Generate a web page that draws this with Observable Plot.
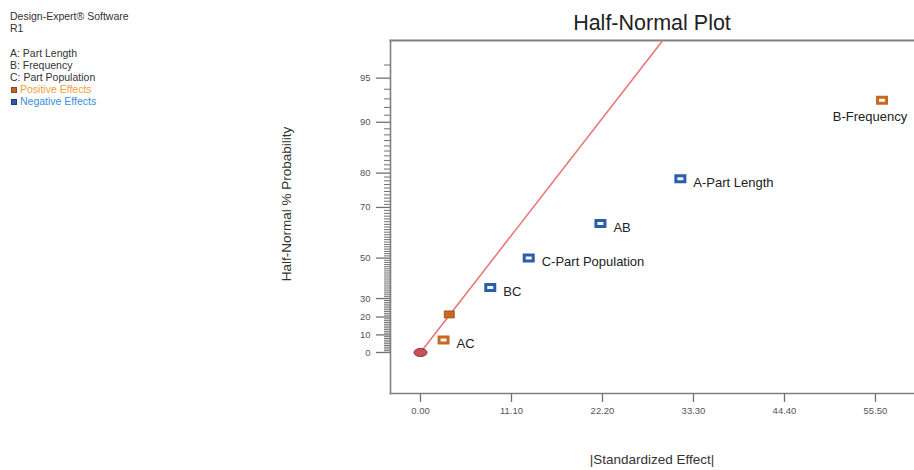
<!DOCTYPE html>
<html>
<head>
<meta charset="utf-8">
<script src="https://cdn.jsdelivr.net/npm/d3@7"></script>
<script src="https://cdn.jsdelivr.net/npm/@observablehq/plot@0.6"></script>
<style>
  body { margin: 0; background: #fff; font-family: "Liberation Sans", Arial, sans-serif; }
  #wrap { position: relative; width: 914px; height: 470px; overflow: hidden; }
  #legend { position: absolute; left: 10px; top: 10px; font-size: 10.5px; line-height: 12.2px; color: #333; }
  #legend .sq { display: inline-block; width: 4px; height: 4px; margin: 0 3px 1px 1px; vertical-align: middle; }
  #title { position: absolute; left: 390px; width: 524px; top: 11px; text-align: center; font-size: 21.5px; color: #222; }
  #xlabel { position: absolute; left: 390px; width: 524px; top: 452px; text-align: center; font-size: 13.5px; color: #333; }
  #ylabel { position: absolute; left: 187px; width: 200px; top: 196px; text-align: center; font-size: 13.5px; color: #333;
            transform: rotate(-90deg); transform-origin: 100px 8px; }
  svg { position: absolute; left: 0; top: 0; }
</style>
</head>
<body>
<div id="wrap">
  <div id="legend">
    <div>Design-Expert® Software</div>
    <div>R1</div>
    <div>&nbsp;</div>
    <div>A: Part Length</div>
    <div>B: Frequency</div>
    <div>C: Part Population</div>
    <div style="color:#f0a040"><span class="sq" style="background:#b8662a;border:1px solid #8a4a1a"></span>Positive Effects</div>
    <div style="color:#3a8fe0"><span class="sq" style="background:#2a5ca8;border:1px solid #1a3c78"></span>Negative Effects</div>
  </div>
  <div id="title">Half-Normal Plot</div>
  <div id="xlabel">|Standardized Effect|</div>
  <div id="ylabel">Half-Normal % Probability</div>
</div>
<script>
// ---- data ----
const terms = ["AC", "ABC", "BC", "C", "AB", "A", "B"];
const termLabels = ["AC", "", "BC", "C-Part Population", "AB", "A-Part Length", "B-Frequency"];
const effectSize = [2.81, 3.51, 8.51, 13.2, 21.95, 31.7, 56.3];
const probability = [7.14, 21.43, 35.71, 50, 64.29, 78.57, 92.86];
const effectSign = ["+", "+", "-", "-", "-", "-", "+"];
const selected = [true, false, true, true, true, true, true];
const originPoint = {x: 0, p: 0};
const lineX = [0, 29.5];
const lineP = [0, 97.4];
const xTicks = [0, 11.1, 22.2, 33.3, 44.4, 55.5];
const yTicks = [0, 10, 20, 30, 50, 70, 80, 90, 95];
const yMinorTicks = d3.range(1, 97).filter(v => !yTicks.includes(v));

// ---- half-normal probability transform (inverse normal CDF, Acklam) ----
function probit(p) {
  const a = [-3.969683028665376e+01, 2.209460984245205e+02, -2.759285104469687e+02, 1.383577518672690e+02, -3.066479806614716e+01, 2.506628277459239e+00];
  const b = [-5.447609879822406e+01, 1.615858368580409e+02, -1.556989798598866e+02, 6.680131188771972e+01, -1.328068155288572e+01];
  const c = [-7.784894002430293e-03, -3.223964580411365e-01, -2.400758277161838e+00, -2.549732539343734e+00, 4.374664141464968e+00, 2.938163982698783e+00];
  const d = [7.784695709041462e-03, 3.224671290700398e-01, 2.445134137142996e+00, 3.754408661907416e+00];
  const pl = 0.02425;
  let q, r;
  if (p < pl) { q = Math.sqrt(-2 * Math.log(p)); return (((((c[0]*q+c[1])*q+c[2])*q+c[3])*q+c[4])*q+c[5]) / ((((d[0]*q+d[1])*q+d[2])*q+d[3])*q+1); }
  if (p > 1 - pl) { q = Math.sqrt(-2 * Math.log(1 - p)); return -(((((c[0]*q+c[1])*q+c[2])*q+c[3])*q+c[4])*q+c[5]) / ((((d[0]*q+d[1])*q+d[2])*q+d[3])*q+1); }
  q = p - 0.5; r = q * q;
  return (((((a[0]*r+a[1])*r+a[2])*r+a[3])*r+a[4])*r+a[5])*q / (((((b[0]*r+b[1])*r+b[2])*r+b[3])*r+b[4])*r+1);
}
const hn = pct => pct <= 0 ? 0 : probit(0.5 + pct / 200);

const rows = terms.map((t, i) => ({
  term: t, label: termLabels[i], x: effectSize[i], p: probability[i],
  sign: effectSign[i], selected: selected[i]
}));
const lineData = lineX.map((x, i) => ({x, p: lineP[i]}));

const colorOf = s => s === "+" ? "#c9691f" : "#2b5ea8";

const rectSym = {draw(ctx) { ctx.moveTo(-4.5, -3); ctx.lineTo(4.5, -3); ctx.lineTo(4.5, 3); ctx.lineTo(-4.5, 3); ctx.closePath(); }};
const smallRectSym = {draw(ctx) { ctx.moveTo(-5, -3.5); ctx.lineTo(5, -3.5); ctx.lineTo(5, 3.5); ctx.lineTo(-5, 3.5); ctx.closePath(); }};
const ellipseSym = {draw(ctx) {
  const rx = 6.5, ry = 4, k = 0.5523;
  ctx.moveTo(-rx, 0);
  ctx.bezierCurveTo(-rx, -ry * k, -rx * k, -ry, 0, -ry);
  ctx.bezierCurveTo(rx * k, -ry, rx, -ry * k, rx, 0);
  ctx.bezierCurveTo(rx, ry * k, rx * k, ry, 0, ry);
  ctx.bezierCurveTo(-rx * k, ry, -rx, ry * k, -rx, 0);
  ctx.closePath();
}};

const yLabelMap = new Map(yTicks.map(t => [hn(t), String(t)]));
const font = "Liberation Sans, Arial, sans-serif";

const chart = Plot.plot({
  width: 914,
  height: 470,
  marginLeft: 390,
  marginRight: 0,
  marginTop: 40,
  marginBottom: 77,
  style: {fontFamily: font, background: "transparent", overflow: "visible"},
  x: {domain: [-3.66, 60.26]},
  y: {domain: [-0.293, 2.229]},
  marks: [
    Plot.frame({anchor: "left", stroke: "#808080", strokeWidth: 1.6}),
    Plot.frame({anchor: "bottom", stroke: "#808080", strokeWidth: 1.6}),
    Plot.frame({anchor: "top", stroke: "#808080", strokeWidth: 2}),
    Plot.axisX({
      ticks: xTicks, tickSize: 9, tickPadding: 5, tickFormat: d3.format(".2f"),
      fontSize: 9.5, color: "#555", stroke: "#707070", strokeWidth: 1.3, label: null
    }),
    Plot.axisY({
      ticks: yMinorTicks.map(hn), tickSize: 6, tickFormat: () => "", stroke: "#707070", label: null
    }),
    Plot.axisY({
      ticks: yTicks.map(hn), tickSize: 14, tickPadding: 6, tickFormat: z => yLabelMap.get(z),
      fontSize: 9.5, color: "#555", stroke: "#707070", strokeWidth: 1.3, label: null
    }),
    Plot.line(lineData, {x: "x", y: d => hn(d.p), stroke: "#e8787a", strokeWidth: 1.6, clip: true}),
    Plot.dot([originPoint], {x: "x", y: d => hn(d.p), symbol: ellipseSym, fill: "#c9505a", stroke: "#8a2f36", strokeWidth: 1}),
    Plot.dot(rows.filter(d => !d.selected), {x: "x", y: d => hn(d.p), symbol: smallRectSym,
      fill: d => colorOf(d.sign), stroke: "#9a4c14", strokeWidth: 0.8}),
    Plot.dot(rows.filter(d => d.selected), {x: "x", y: d => hn(d.p), symbol: rectSym,
      fill: "#f4f6fa", stroke: d => colorOf(d.sign), strokeWidth: 3}),
    Plot.text(rows.filter(d => d.selected && d.term !== "B"), {x: "x", y: d => hn(d.p), text: "label",
      dx: 13, dy: 4, textAnchor: "start", fontSize: 13, fill: "#222"}),
    Plot.text(rows.filter(d => d.term === "B"), {x: "x", y: d => hn(d.p), text: "label",
      dx: -12, dy: 17, textAnchor: "middle", fontSize: 13, fill: "#222"})
  ]
});
document.getElementById("wrap").prepend(chart);
</script>
</body>
</html>
